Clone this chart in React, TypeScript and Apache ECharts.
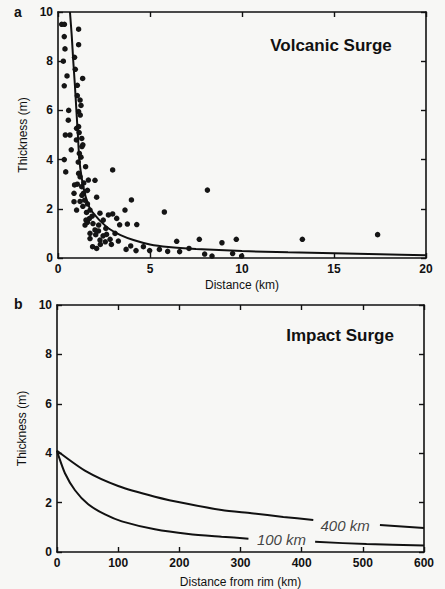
import React, { useEffect, useRef } from "react";
import * as echarts from "echarts";

// Panel a: volcanic surge observations
const volcDist = [
  0.2, 0.35, 0.34, 0.38, 0.29, 0.49, 0.34, 0.58, 0.56, 0.4, 0.65, 0.72, 0.42, 0.34,
  1.12, 1.12, 0.9, 0.94, 1.34, 1.05, 1.2, 1.12, 1.21, 1.01, 1.12, 1.29, 1.3, 1.16, 1.5, 1.12,
  1.65, 2.01, 0.9, 1.29, 0.87, 1.38, 2.1, 0.87, 1.01, 1.74, 1.52, 1.47, 2.28, 2.46, 2.74, 2.97,
  3.19, 2.97, 3.64, 3.99, 3.77, 4.28, 2.21, 1.74, 2.01, 1.74, 2.28, 2.64, 2.57, 2.83, 3.1, 3.28,
  1.88, 2.1, 3.7, 3.95, 4.24, 4.64, 4.98, 5.51, 5.96, 6.45, 6.61, 7.12, 7.68, 7.97, 8.37, 8.12,
  8.91, 9.49, 9.69, 9.98, 13.28, 17.37, 5.78,
  1.3, 1.45, 1.6, 1.55, 1.7, 1.9, 2.2, 2.45, 2.6, 1.6, 1.4, 1.2, 1.1, 1.25, 1.35, 1.0, 1.15,
  1.05, 1.2, 1.35, 1.6, 1.85, 2.05, 2.3, 2.9, 3.35, 1.25, 1.05,
];
const volcThick = [
  9.5, 9.5, 9.0, 8.5, 8.0, 7.4, 7.0, 6.0, 5.6, 5.0, 5.0, 4.4, 3.5, 4.0,
  9.3, 8.67, 8.16, 7.67, 7.3, 7.02, 6.42, 5.95, 5.81, 5.27, 5.34, 4.86, 4.53, 4.25, 3.71, 3.44,
  3.17, 3.16, 2.97, 2.9, 2.63, 2.63, 2.47, 2.29, 1.95, 1.95, 1.54, 1.34, 1.82, 1.54, 1.75, 1.79,
  1.61, 3.58, 1.95, 2.36, 1.38, 1.36, 1.34, 1.0, 1.14, 0.79, 0.73, 0.96, 0.66, 0.76, 1.0, 0.69,
  0.46, 0.39, 0.35, 0.49, 0.3, 0.46, 0.3, 0.35, 0.27, 0.68, 0.26, 0.39, 0.76, 0.16, 0.08, 2.76,
  0.62, 0.18, 0.76, 0.08, 0.76, 0.95, 1.87,
  2.55, 2.35, 2.2, 1.85, 1.6, 1.4, 1.1, 0.9, 1.2, 2.75, 3.05, 3.3, 3.9, 4.1, 4.6, 4.8, 5.1,
  3.0, 2.3, 2.1, 1.45, 1.7, 0.95, 0.55, 0.55, 1.35, 6.2, 6.6,
];

// Panel a: fitted curve
const fitDist = [0.65, 0.75, 0.83, 0.92, 1.0, 1.08, 1.16, 1.3, 1.5, 1.74, 2.0, 2.3, 2.8, 3.4, 4.1, 5, 6, 7.5, 10, 12.5, 15, 17.5, 20];
const fitThick = [10, 9, 8, 7, 6, 5, 4, 3.2, 2.5, 2.0, 1.75, 1.5, 1.18, 0.93, 0.73, 0.55, 0.45, 0.37, 0.28, 0.23, 0.19, 0.15, 0.11];

// Panel b: impact surge curves (each split in two pieces around its label)
const d400a = [0, 48.5, 100, 160, 215, 269, 318, 370, 419];
const t400a = [4.1, 3.25, 2.67, 2.24, 1.94, 1.7, 1.57, 1.42, 1.3];
const d400b = [528, 600];
const t400b = [1.09, 0.97];
const d100a = [0, 2, 13, 29.4, 51, 78.5, 106, 160, 215, 269, 313];
const t100a = [4.1, 3.93, 3.19, 2.5, 1.93, 1.52, 1.24, 0.92, 0.73, 0.62, 0.54];
const d100b = [422, 506, 600];
const t100b = [0.41, 0.32, 0.26];

const labels400 = { x: 471, y: 1.09, text: "400 km" };
const labels100 = { x: 367, y: 0.51, text: "100 km" };

const FONT = "'Liberation Sans', Arial, Helvetica, sans-serif";

function pairs(xs: number[], ys: number[]) {
  return xs.map((x, i) => [x, ys[i]]);
}

export default function App() {
  const ref = useRef<HTMLDivElement>(null);
  useEffect(() => {
    document.body.style.margin = "0";
    const chart = echarts.init(ref.current!, undefined, { renderer: "svg" });
    const axisLine = { show: true, onZero: false, lineStyle: { color: "#111", width: 1.6 } };
    const tick = { show: true, inside: true, length: 5, lineStyle: { color: "#111", width: 1.4 } };
    const lab = { color: "#111", fontSize: 12, fontWeight: "bold" as const, fontFamily: FONT, margin: 5 };
    const nameStyle = { color: "#111", fontSize: 12, fontFamily: FONT };
    const mkX = (grid: number, max: number, interval: number, name: string, gap: number) => [
      {
        type: "value", gridIndex: grid, min: 0, max, interval, position: "bottom",
        name, nameLocation: "middle", nameGap: gap, nameTextStyle: nameStyle,
        axisLine, axisTick: tick, axisLabel: lab, splitLine: { show: false },
      },
      {
        type: "value", gridIndex: grid, min: 0, max, interval, position: "top",
        axisLine, axisTick: tick, axisLabel: { show: false }, splitLine: { show: false },
      },
    ];
    const mkY = (grid: number) => [
      {
        type: "value", gridIndex: grid, min: 0, max: 10, interval: 2, position: "left",
        name: "Thickness (m)", nameLocation: "middle", nameGap: 27, nameTextStyle: nameStyle,
        axisLine, axisTick: tick, axisLabel: lab, splitLine: { show: false },
      },
      {
        type: "value", gridIndex: grid, min: 0, max: 10, interval: 2, position: "right",
        axisLine, axisTick: tick, axisLabel: { show: false }, splitLine: { show: false },
      },
    ];
    const curve = (xi: number, yi: number, data: any[]) => ({
      type: "line", xAxisIndex: xi, yAxisIndex: yi, data, showSymbol: false, symbol: "none",
      smooth: 0.25, lineStyle: { color: "#111", width: 2 }, z: 3,
    });
    const textMark = (t: { x: number; y: number; text: string }) => ({
      type: "scatter", xAxisIndex: 2, yAxisIndex: 2, symbolSize: 0, data: [[t.x, t.y]],
      label: {
        show: true, position: "inside", formatter: t.text, color: "#111",
        fontSize: 15, fontStyle: "italic", fontFamily: FONT,
      },
      z: 5,
    });
    chart.setOption({
      animation: false,
      backgroundColor: "#f7f7f5",
      grid: [
        { left: 58, top: 12, width: 368, height: 246 },
        { left: 57, top: 305, width: 367, height: 247 },
      ],
      xAxis: [...mkX(0, 20, 5, "Distance (km)", 21), ...mkX(1, 600, 100, "Distance from rim (km)", 24)],
      yAxis: [...mkY(0), ...mkY(1)],
      series: [
        {
          type: "scatter", xAxisIndex: 0, yAxisIndex: 0, data: pairs(volcDist, volcThick),
          symbolSize: 5.5, itemStyle: { color: "#151515", opacity: 1 }, z: 2,
        },
        curve(0, 0, pairs(fitDist, fitThick)),
        curve(2, 2, pairs(d400a, t400a)),
        curve(2, 2, pairs(d400b, t400b)),
        curve(2, 2, pairs(d100a, t100a)),
        curve(2, 2, pairs(d100b, t100b)),
        textMark(labels400),
        textMark(labels100),
      ],
      graphic: [
        { type: "text", left: 14, top: 5, style: { text: "a", fontSize: 14, fontWeight: "bold", fontFamily: FONT, fill: "#111" } },
        { type: "text", left: 14, top: 297, style: { text: "b", fontSize: 14, fontWeight: "bold", fontFamily: FONT, fill: "#111" } },
        { type: "text", x: 331, y: 45, style: { text: "Volcanic Surge", fontSize: 17, fontWeight: "bold", fontFamily: FONT, fill: "#111", align: "center", verticalAlign: "middle" } },
        { type: "text", x: 340, y: 335, style: { text: "Impact Surge", fontSize: 17, fontWeight: "bold", fontFamily: FONT, fill: "#111", align: "center", verticalAlign: "middle" } },
      ],
    });
    return () => chart.dispose();
  }, []);
  return <div ref={ref} style={{ position: "absolute", left: 0, top: 0, width: 445, height: 589 }} />;
}
